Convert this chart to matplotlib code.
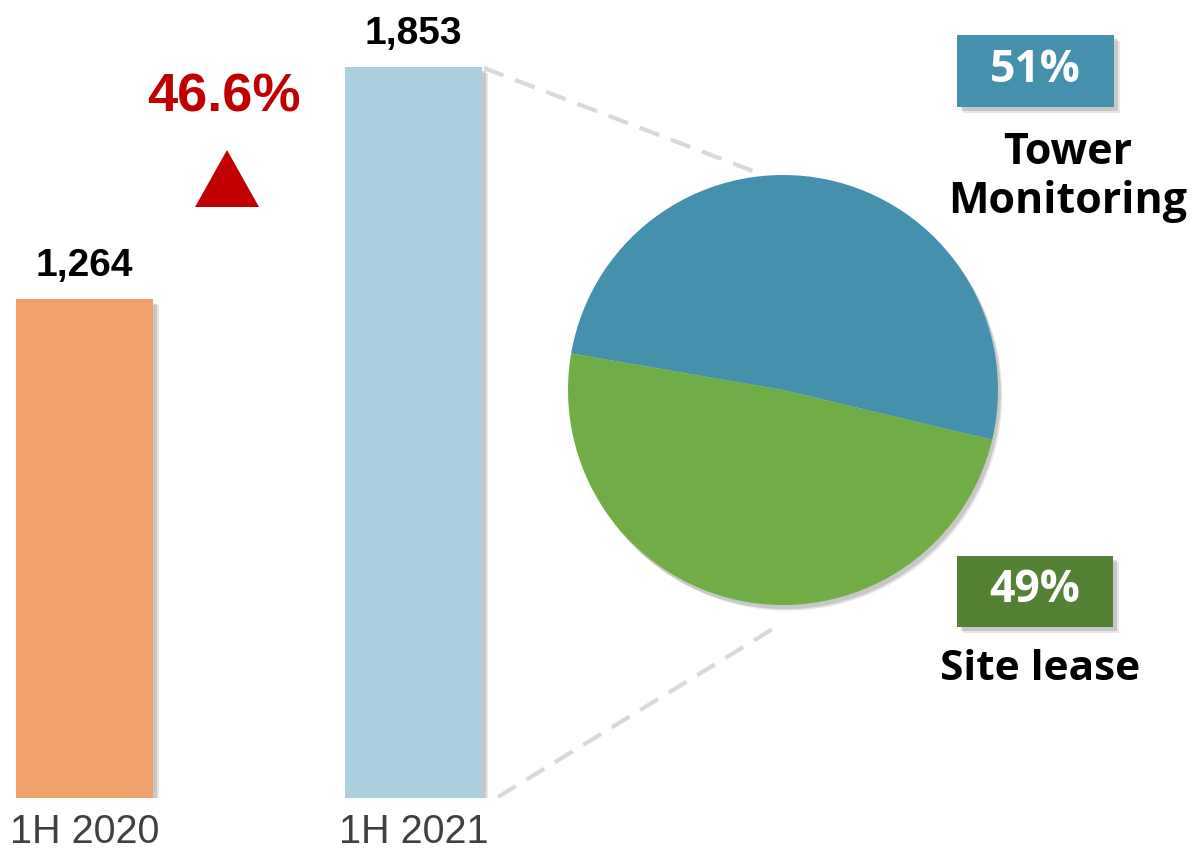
import matplotlib
matplotlib.use("Agg")
import matplotlib.pyplot as plt
import matplotlib.patheffects as pe
from matplotlib.lines import Line2D
from matplotlib.patches import Polygon, Rectangle

# ---- data ----
periods = ["1H 2020", "1H 2021"]
revenue = [1264, 1853]
revenue_labels = ["1,264", "1,853"]
growth_label = "46.6%"
segments = ["Tower\nMonitoring", "Site lease"]
shares = [51, 49]
share_labels = ["51%", "49%"]

W, H = 1192, 849
fig = plt.figure(figsize=(W / 100, H / 100), dpi=100)
fig.patch.set_facecolor("white")


def fx(x):
    return x / W


def fy(y):
    return 1 - y / H


def pxpt(x, y):
    return (fx(x), fy(y))


bar_colors = ["#F0A06B", "#ABD0DF"]
sans = ["Liberation Sans", "DejaVu Sans"]
seg = ["Open Sans", "DejaVu Sans"]


def soft_shadow(dx=3, dy=-3):
    return [pe.SimplePatchShadow(offset=(dx + 1, dy - 1), shadow_rgbFace="#A0A0A0", alpha=0.25),
            pe.SimplePatchShadow(offset=(dx, dy), shadow_rgbFace="#909090", alpha=0.35),
            pe.Normal()]


# ---- bar axes ----
ymax = 2000
zero_px, scale = 798, 0.3945
top_px = zero_px - ymax * scale
ax = fig.add_axes([0, fy(zero_px), fx(520), (zero_px - top_px) / H])
ax.set_xlim(-84.5 / 329, (520 - 84.5) / 329)
ax.set_ylim(0, ymax)
ax.axis("off")
bars = ax.bar(range(len(periods)), revenue, width=137 / 329, color=bar_colors, zorder=2)
for b in bars:
    b.set_path_effects(soft_shadow(3, -3))
for i, (v, lab) in enumerate(zip(revenue, revenue_labels)):
    ax.annotate(lab, (i, v), xytext=(0, 11), textcoords="offset points", ha="center", va="bottom",
                fontsize=28, fontweight="bold", family=sans, color="black")
    ax.annotate(periods[i], (i, 0), xytext=(0, -11), textcoords="offset points", ha="center", va="top",
                fontsize=28.5, family=sans, color="#404040", annotation_clip=False)

# growth annotation
fig.text(fx(224), fy(98), growth_label, ha="center", va="center", fontsize=39, fontweight="bold",
         family=sans, color="#C00000")
fig.add_artist(Polygon([pxpt(195, 207), pxpt(259, 207), pxpt(227, 150)], closed=True,
                       transform=fig.transFigure, facecolor="#C00000", edgecolor="none"))

# connector dashed lines
for (x0, y0, x1, y1) in [(484, 68, 758, 173), (498, 797, 776, 627)]:
    fig.add_artist(Line2D([fx(x0), fx(x1)], [fy(y0), fy(y1)], transform=fig.transFigure,
                          color="#D9D9D9", lw=3, ls=(0, (5, 3))))

# ---- pie ----
cx, cy, r = 783, 390, 215
pax = fig.add_axes([fx(cx - r), fy(cy + r), 2 * r / W, 2 * r / H])
pie_colors = ["#4591AD", "#70AD47"]
wedges, _ = pax.pie(shares, colors=pie_colors, startangle=-13.4, counterclock=True, radius=1,
                    wedgeprops=dict(linewidth=0))
pax.set_xlim(-1, 1)
pax.set_ylim(-1, 1)
pax.set_aspect("equal")
pax.axis("off")
for w in wedges:
    w.set_path_effects(soft_shadow(2, -3))

# ---- label boxes ----
box_colors = ["#4591AD", "#548235"]
boxes = [(957, 35, 1114, 107), (957, 556, 1113, 627)]
name_pos = [(1068, 177), (1040, 669)]
name_size = [31, 30.5]
for (x0, y0, x1, y1), col, lab, name, (nx, ny), ns in zip(boxes, box_colors, share_labels, segments,
                                                          name_pos, name_size):
    rect = Rectangle(pxpt(x0, y1), (x1 - x0) / W, (y1 - y0) / H, transform=fig.transFigure,
                     facecolor=col, edgecolor="none")
    rect.set_path_effects(soft_shadow(3, -3))
    fig.add_artist(rect)
    fig.text(fx((x0 + x1) / 2), fy((y0 + y1) / 2 - 1), lab, ha="center", va="center", fontsize=32,
             fontweight="bold", family=seg, color="white")
    fig.text(fx(nx), fy(ny), name, ha="center", va="center", fontsize=ns, fontweight="bold",
             family=seg, color="black", linespacing=1.17)

fig.savefig("out.png", dpi=100, facecolor="white")
